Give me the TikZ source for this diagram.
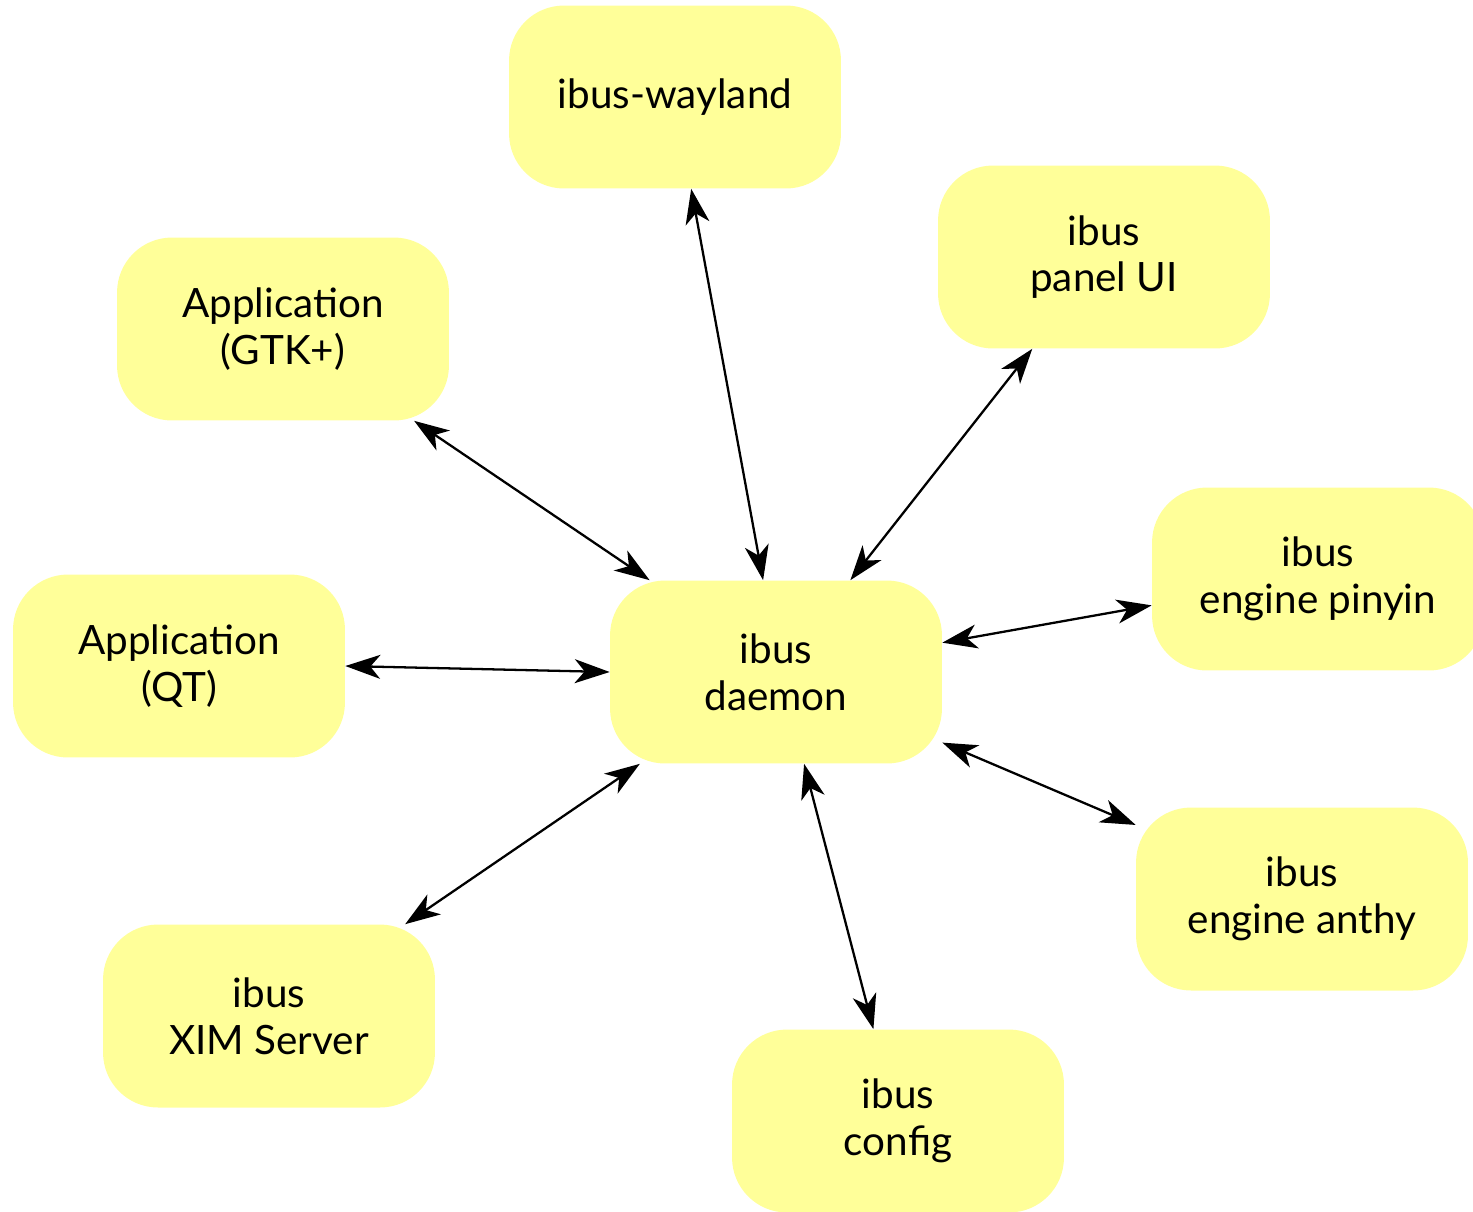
\documentclass[tikz,border=0pt]{standalone}
\usepackage{fontspec}
\setmainfont{Lato}
\usetikzlibrary{arrows.meta}
\definecolor{boxyellow}{RGB}{255,255,153}
\begin{document}
\begin{tikzpicture}[x=0.02cm, y=-0.02cm,
    box/.style={fill=boxyellow, rounded corners=1.1cm, minimum width=6.64cm, minimum height=3.66cm, align=center, font=\fontsize{23}{26.5}\selectfont},
    link/.style={line width=1.3pt, {Stealth[length=0.7cm, width=0.48cm, inset=0.2cm]}-{Stealth[length=0.7cm, width=0.48cm, inset=0.2cm]}}]
    \useasboundingbox (0,0) rectangle (1473,1211);
    \node[box] (daemon) at (776,672) {ibus\\daemon};
    \node[box] (wayland) at (675,97) {ibus-wayland};
    \node[box] (panel) at (1104,257) {ibus\\panel UI};
    \node[box] (gtk) at (283,329) {Application\\(GTK+)};
    \node[box] (pinyin) at (1318,579) {ibus\\engine pinyin};
    \node[box] (qt) at (179,666) {Application\\(QT)};
    \node[box] (anthy) at (1302,899) {ibus\\engine anthy};
    \node[box] (xim) at (269,1016) {ibus\\XIM Server};
    \node[box] (config) at (898,1121) {ibus\\config};

    \draw[link] (wayland.-80.5) -- (daemon.98.8);
    \draw[link] (panel.-128.1) -- (daemon.51.3);
    \draw[link] (gtk.-35.3) -- (daemon.144.7);
    \draw[link] (pinyin.189.7) -- (daemon.10);
    \draw[link] (qt.east) -- (daemon.west);
    \draw[link] (xim.34.3) -- (daemon.214.5);
    \draw[link] (anthy.156) -- (daemon.-23.8);
    \draw[link] (config.105.5) -- (daemon.-73.9);
\end{tikzpicture}
\end{document}
